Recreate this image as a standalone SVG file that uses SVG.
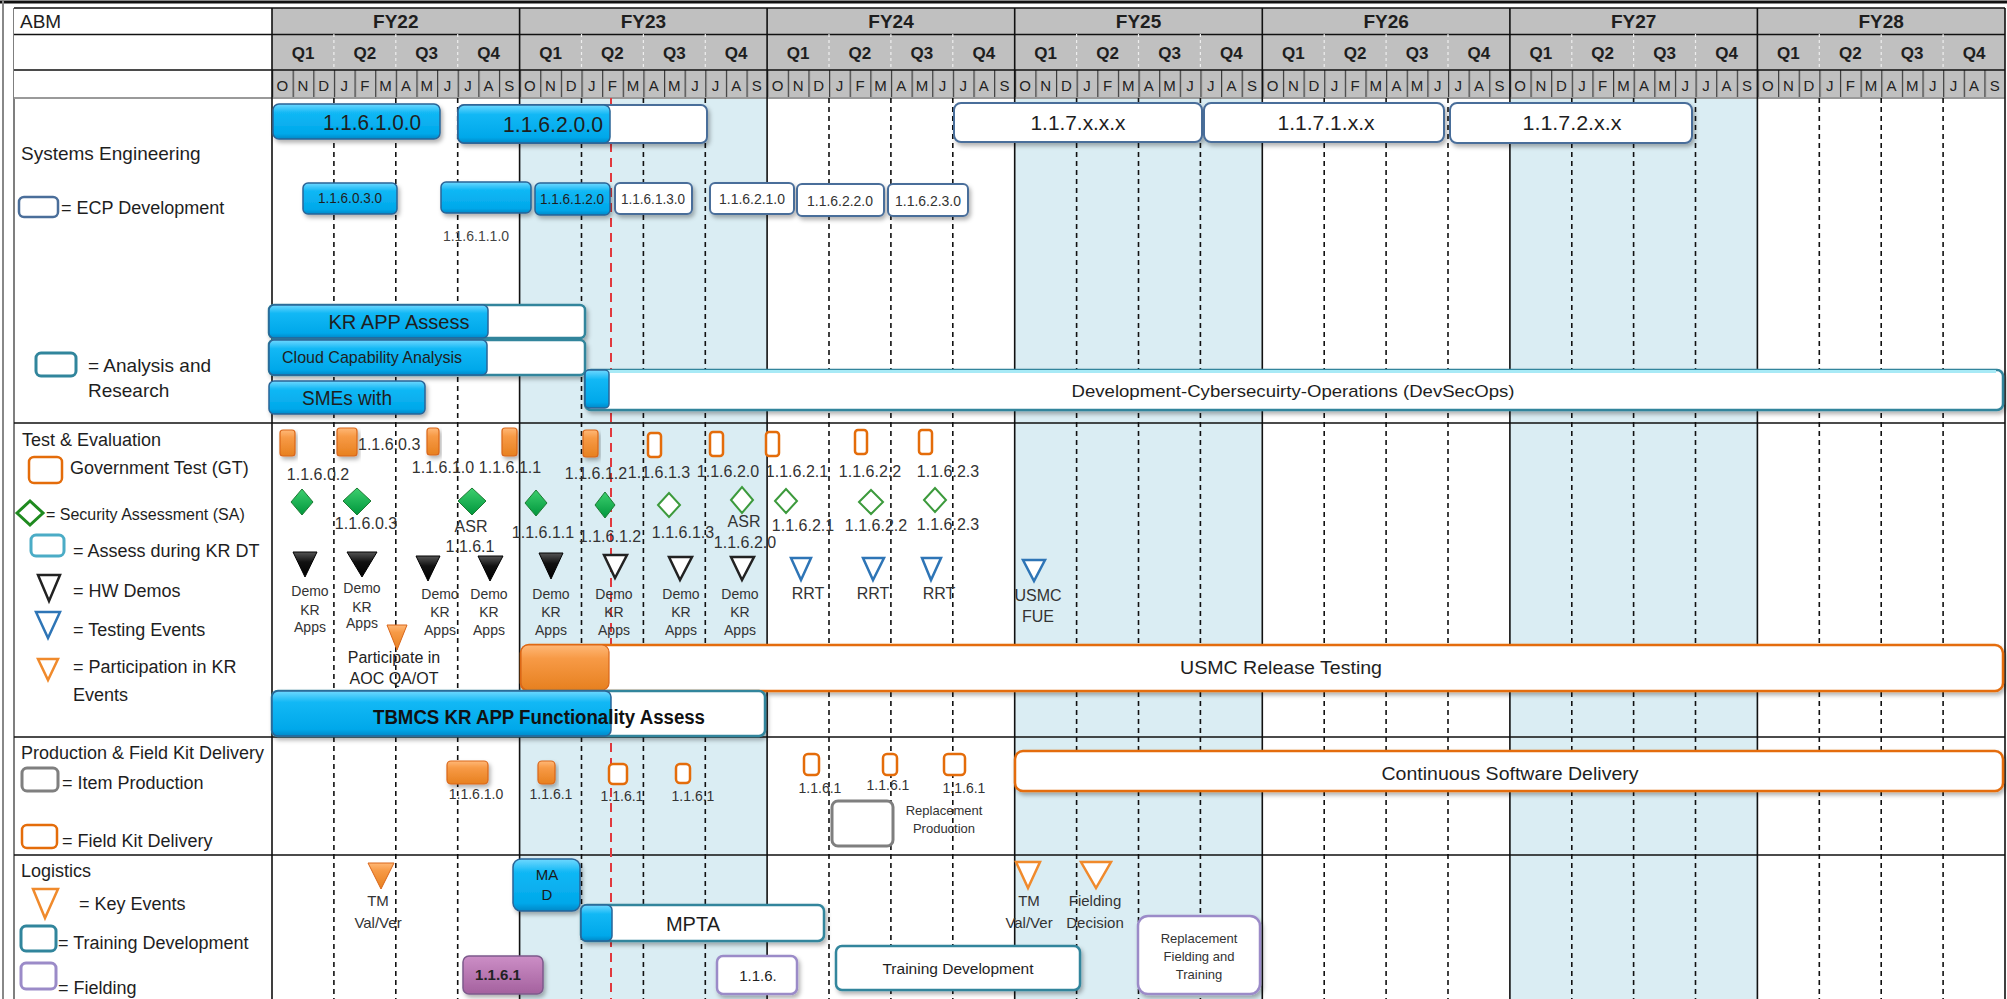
<svg xmlns="http://www.w3.org/2000/svg" width="2007" height="999" viewBox="0 0 2007 999">
<defs>
<linearGradient id="gB" x1="0" y1="0" x2="0" y2="1"><stop offset="0" stop-color="#6fd8ff"/><stop offset="0.25" stop-color="#12b8f5"/><stop offset="0.85" stop-color="#00a8ea"/><stop offset="1" stop-color="#0088c8"/></linearGradient>
<linearGradient id="gO" x1="0" y1="0" x2="0" y2="1"><stop offset="0" stop-color="#ffb877"/><stop offset="0.3" stop-color="#f79a46"/><stop offset="1" stop-color="#e7801f"/></linearGradient>
<linearGradient id="gP" x1="0" y1="0" x2="0" y2="1"><stop offset="0" stop-color="#cc8ec6"/><stop offset="1" stop-color="#a4619e"/></linearGradient>
<linearGradient id="gG" x1="0" y1="0" x2="0" y2="1"><stop offset="0" stop-color="#3ccf6e"/><stop offset="1" stop-color="#00963c"/></linearGradient>
<linearGradient id="gK" x1="0" y1="0" x2="0" y2="1"><stop offset="0" stop-color="#555"/><stop offset="0.4" stop-color="#111"/><stop offset="1" stop-color="#000"/></linearGradient>
<filter id="sh" x="-10%" y="-20%" width="130%" height="160%"><feDropShadow dx="2" dy="3" stdDeviation="2" flood-color="#000" flood-opacity="0.3"/></filter>
<pattern id="mpat" x="272" y="0" width="20.631" height="999" patternUnits="userSpaceOnUse"><rect x="0" y="0" width="1.2" height="999" fill="#3a3a3a"/></pattern>
</defs>
<style>
text{font-family:"Liberation Sans",Arial,sans-serif;fill:#1e1e1e}
.hdr{font-weight:bold;font-size:19px;text-anchor:middle}
.q{font-weight:bold;font-size:17px;text-anchor:middle}
.mo{font-size:15px;text-anchor:middle;fill:#222}
.lb{font-size:18px}
.c{text-anchor:middle}
.sm{font-size:14px;fill:#333}
.md{font-size:15px;fill:#333}
.bb{fill:url(#gB);stroke:#2a6496;stroke-width:1.5;filter:url(#sh)}
.bbn{fill:url(#gB);stroke:#2a6496;stroke-width:1.5}
.wb{fill:#fff;stroke:#4a6e9a;stroke-width:2;filter:url(#sh)}
.tb{fill:#fff;stroke:#31859c;stroke-width:2.5;filter:url(#sh)}
.of{fill:url(#gO);stroke:#d9661a;stroke-width:1.2;filter:url(#sh)}
.ofn{fill:url(#gO);stroke:#d9661a;stroke-width:1.2}
.ow{fill:#fff;stroke:#e46c0a;stroke-width:2.5}
.owb{fill:#fff;stroke:#e46c0a;stroke-width:2.5;filter:url(#sh)}
.pf{fill:url(#gP);stroke:#7d5a8c;stroke-width:1.5;filter:url(#sh)}
.pw{fill:#fff;stroke:#9b8bc8;stroke-width:2.5;filter:url(#sh)}
.gr{fill:#fff;stroke:#7f7f7f;stroke-width:3}
.gd{fill:url(#gG);stroke:#1e7b34;stroke-width:1}
.go{fill:#fff;stroke:#3c9a3c;stroke-width:2}
.tk{fill:url(#gK);stroke:#000;stroke-width:1}
.to{fill:#fff;stroke:#222;stroke-width:2.5}
.tbl{fill:#fff;stroke:#2e75b6;stroke-width:2.5}
.tof{fill:url(#gO);stroke:#d9661a;stroke-width:1}
.too{fill:#fff;stroke:#f08a2c;stroke-width:2.5}
.dash{fill:none;stroke:#111;stroke-width:1.6;stroke-dasharray:5 4}
.sol{fill:none;stroke:#111;stroke-width:1.6}
</style>

<!-- background and grid -->
<g id="grid">
<rect x="0" y="0" width="2007" height="999" fill="#fff"/>
<rect x="519.6" y="98" width="247.5" height="901" fill="#daedf3"/>
<rect x="1014.7" y="98" width="247.6" height="901" fill="#daedf3"/>
<rect x="1509.9" y="98" width="247.5" height="901" fill="#daedf3"/>
<line x1="0" y1="2" x2="2007" y2="2" stroke="#111" stroke-width="3"/>
<line x1="3" y1="0" x2="3" y2="999" stroke="#888" stroke-width="2"/>
<line x1="14" y1="8" x2="14" y2="999" stroke="#555" stroke-width="1.5"/>
<!-- header -->
<rect x="14" y="8" width="258" height="90" fill="#fff"/>
<rect x="272" y="8" width="1733" height="90" fill="#c0c0c0"/>
<rect x="272" y="70" width="1733" height="28" fill="url(#mpat)"/>
<path class="sol" d="M14 8H2005M14 34.5H2005M14 70H2005" stroke-width="2"/>
<path d="M14 98H2005" stroke="#9a9a9a" stroke-width="2"/>
<path d="M333.9 34V70M395.8 34V70M457.7 34V70M581.5 34V70M643.4 34V70M705.3 34V70M829 34V70M890.9 34V70M952.8 34V70M1076.6 34V70M1138.5 34V70M1200.4 34V70M1324.2 34V70M1386.1 34V70M1448 34V70M1571.8 34V70M1633.6 34V70M1695.5 34V70M1819.3 34V70M1881.2 34V70M1943.1 34V70" stroke="#eee" stroke-width="1.2" stroke-dasharray="3 3"/>
<path class="sol" d="M272 8V999M519.6 8V999M767.1 8V999M1014.7 8V999M1262.3 8V999M1509.9 8V999M1757.4 8V999M2005 8V999"/>
<path class="dash" d="M333.9 98V999M395.8 98V999M457.7 98V999M581.5 98V999M643.4 98V999M705.3 98V999M829 98V999M890.9 98V999M952.8 98V999M1076.6 98V999M1138.5 98V999M1200.4 98V999M1324.2 98V999M1386.1 98V999M1448 98V999M1571.8 98V999M1633.6 98V999M1695.5 98V999M1819.3 98V999M1881.2 98V999M1943.1 98V999"/>
<path class="sol" d="M14 423H2005M14 737H2005M14 855H2005" stroke-width="2.2"/>
<line x1="611" y1="98" x2="611" y2="999" stroke="#e0393e" stroke-width="2" stroke-dasharray="9 6"/>
</g>

<g id="header-text">
<text x="20" y="28" style="font-size:19px">ABM</text>
<text class="hdr" x="395.8" y="28">FY22</text>
<text class="hdr" x="643.4" y="28">FY23</text>
<text class="hdr" x="891" y="28">FY24</text>
<text class="hdr" x="1138.5" y="28">FY25</text>
<text class="hdr" x="1386.1" y="28">FY26</text>
<text class="hdr" x="1633.6" y="28">FY27</text>
<text class="hdr" x="1881.2" y="28">FY28</text>
<text class="q" x="303" y="59">Q1</text><text class="q" x="364.8" y="59">Q2</text><text class="q" x="426.7" y="59">Q3</text><text class="q" x="488.6" y="59">Q4</text>
<text class="q" x="550.5" y="59">Q1</text><text class="q" x="612.4" y="59">Q2</text><text class="q" x="674.3" y="59">Q3</text><text class="q" x="736.2" y="59">Q4</text>
<text class="q" x="798.1" y="59">Q1</text><text class="q" x="859.9" y="59">Q2</text><text class="q" x="921.9" y="59">Q3</text><text class="q" x="983.8" y="59">Q4</text>
<text class="q" x="1045.7" y="59">Q1</text><text class="q" x="1107.6" y="59">Q2</text><text class="q" x="1169.5" y="59">Q3</text><text class="q" x="1231.4" y="59">Q4</text>
<text class="q" x="1293.3" y="59">Q1</text><text class="q" x="1355.1" y="59">Q2</text><text class="q" x="1417" y="59">Q3</text><text class="q" x="1478.9" y="59">Q4</text>
<text class="q" x="1540.8" y="59">Q1</text><text class="q" x="1602.7" y="59">Q2</text><text class="q" x="1664.6" y="59">Q3</text><text class="q" x="1726.5" y="59">Q4</text>
<text class="q" x="1788.4" y="59">Q1</text><text class="q" x="1850.3" y="59">Q2</text><text class="q" x="1912.2" y="59">Q3</text><text class="q" x="1974.1" y="59">Q4</text>
<text class="mo" x="282.3 302.9 323.6 344.2 364.8 385.5 406.1 426.7 447.4 468 488.6 509.3 529.9 550.5 571.2 591.8 612.4 633 653.7 674.3 694.9 715.6 736.2 756.8 777.5 798.1 818.7 839.4 860 880.6 901.3 921.9 942.5 963.2 983.8 1004.4 1025 1045.7 1066.3 1086.9 1107.6 1128.2 1148.8 1169.5 1190.1 1210.7 1231.4 1252 1272.6 1293.3 1313.9 1334.5 1355.1 1375.8 1396.4 1417 1437.7 1458.3 1478.9 1499.6 1520.2 1540.8 1561.5 1582.1 1602.7 1623.4 1644 1664.6 1685.3 1705.9 1726.5 1747.1 1767.8 1788.4 1809 1829.7 1850.3 1870.9 1891.6 1912.2 1932.8 1953.5 1974.1 1994.7" y="91">ONDJFMAMJJASONDJFMAMJJASONDJFMAMJJASONDJFMAMJJASONDJFMAMJJASONDJFMAMJJASONDJFMAMJJAS</text>
</g>

<!-- left legend labels -->
<g id="legend-se">
<text class="lb" x="21" y="160" style="font-size:19px">Systems Engineering</text>
<rect x="19" y="197" width="39" height="20" rx="5" fill="#fff" stroke="#4a6e9a" stroke-width="2.5"/>
<text class="lb" x="61" y="214">= ECP Development</text>
<rect x="36" y="353" width="40" height="23" rx="5" fill="#fff" stroke="#31859c" stroke-width="3"/>
<text class="lb" x="88" y="372" style="font-size:19px">= Analysis and</text>
<text class="lb" x="88" y="397" style="font-size:19px">Research</text>
</g>
<g id="legend-te">
<text class="lb" x="22" y="446">Test &amp; Evaluation</text>
<rect x="29" y="457" width="33" height="26" rx="5" fill="#fff" stroke="#e46c0a" stroke-width="2.5"/>
<text class="lb" x="70" y="474">Government Test (GT)</text>
<polygon points="17,513 30,501 43,513 30,525" fill="#fff" stroke="#1f8a1f" stroke-width="3"/>
<text x="46" y="520" style="font-size:16px">= Security Assessment (SA)</text>
<rect x="31" y="535" width="33" height="21" rx="5" fill="#fff" stroke="#4bacc6" stroke-width="3"/>
<text class="lb" x="73" y="557">= Assess during KR DT</text>
<polygon points="38,575 60,575 49,601" fill="#fff" stroke="#222" stroke-width="2.5"/>
<text class="lb" x="73" y="597">= HW Demos</text>
<polygon points="36,612 60,612 48,638" fill="#fff" stroke="#2e75b6" stroke-width="2.5"/>
<text class="lb" x="73" y="636">= Testing Events</text>
<polygon points="38,659 58,659 48,680" fill="#fff" stroke="#f08a2c" stroke-width="2.5"/>
<text class="lb" x="73" y="673">= Participation in KR</text>
<text class="lb" x="73" y="701">Events</text>
</g>
<g id="legend-prod">
<text class="lb" x="21" y="759">Production &amp; Field Kit Delivery</text>
<rect x="22" y="768" width="36" height="23" rx="5" fill="#fff" stroke="#7f7f7f" stroke-width="3"/>
<text class="lb" x="62" y="789">= Item Production</text>
<rect x="22" y="825" width="35" height="23" rx="5" fill="#fff" stroke="#e46c0a" stroke-width="2.5"/>
<text class="lb" x="62" y="847">= Field Kit Delivery</text>
</g>
<g id="legend-log">
<text class="lb" x="21" y="877">Logistics</text>
<polygon points="33,889 58,889 45,918" fill="#fff" stroke="#f08a2c" stroke-width="2.5"/>
<text class="lb" x="79" y="910">= Key Events</text>
<rect x="21" y="926" width="35" height="25" rx="5" fill="#fff" stroke="#31859c" stroke-width="3"/>
<text class="lb" x="58" y="949">= Training Development</text>
<rect x="21" y="963" width="35" height="26" rx="5" fill="#fff" stroke="#9b8bc8" stroke-width="3"/>
<text class="lb" x="58" y="994">= Fielding</text>
</g>

<!-- Systems Engineering -->
<g id="se-1.1.6.1.0.0"><rect class="bb" x="273" y="104" width="167" height="35" rx="6"/><text class="c" x="372" y="130" style="font-size:22px" textLength="98" lengthAdjust="spacingAndGlyphs">1.1.6.1.0.0</text></g>
<g id="se-1.1.6.2.0.0"><rect class="wb" x="458" y="105" width="249" height="38" rx="6"/><rect class="bbn" x="458" y="105" width="152" height="38" rx="6"/><text class="c" x="553" y="132" style="font-size:22px" textLength="100" lengthAdjust="spacingAndGlyphs">1.1.6.2.0.0</text></g>
<g id="se-1.1.7.x.x.x"><rect class="wb" x="954" y="103" width="248" height="39" rx="7"/><text class="c" x="1078" y="130" style="font-size:21px" textLength="95" lengthAdjust="spacingAndGlyphs">1.1.7.x.x.x</text></g>
<g id="se-1.1.7.1.x.x"><rect class="wb" x="1204" y="103" width="240" height="39" rx="7"/><text class="c" x="1326" y="130" style="font-size:21px" textLength="97" lengthAdjust="spacingAndGlyphs">1.1.7.1.x.x</text></g>
<g id="se-1.1.7.2.x.x"><rect class="wb" x="1450" y="103" width="242" height="40" rx="7"/><text class="c" x="1572" y="130" style="font-size:21px" textLength="99" lengthAdjust="spacingAndGlyphs">1.1.7.2.x.x</text></g>
<g id="se-1.1.6.0.3.0"><rect class="bb" x="303" y="183" width="94" height="31" rx="5"/><text class="c" x="350" y="203" style="font-size:14px" textLength="64" lengthAdjust="spacingAndGlyphs">1.1.6.0.3.0</text></g>
<g id="se-1.1.6.1.1.0"><rect class="bb" x="441" y="182" width="90" height="31" rx="5"/><text class="c sm" x="476" y="241" style="fill:#444">1.1.6.1.1.0</text></g>
<g id="se-1.1.6.1.2.0"><rect class="bb" x="535" y="183" width="75" height="32" rx="5"/><text class="c" x="572" y="204" style="font-size:14px" textLength="64" lengthAdjust="spacingAndGlyphs">1.1.6.1.2.0</text></g>
<g id="se-1.1.6.1.3.0"><rect class="wb" x="615" y="183" width="77" height="31" rx="5"/><text class="c" x="653" y="204" style="font-size:14px;fill:#333" textLength="64" lengthAdjust="spacingAndGlyphs">1.1.6.1.3.0</text></g>
<g id="se-1.1.6.2.1.0"><rect class="wb" x="710" y="183" width="84" height="31" rx="5"/><text class="c" x="752" y="204" style="font-size:14px;fill:#333" textLength="66" lengthAdjust="spacingAndGlyphs">1.1.6.2.1.0</text></g>
<g id="se-1.1.6.2.2.0"><rect class="wb" x="797" y="184" width="87" height="32" rx="5"/><text class="c" x="840" y="206" style="font-size:14px;fill:#333" textLength="66" lengthAdjust="spacingAndGlyphs">1.1.6.2.2.0</text></g>
<g id="se-1.1.6.2.3.0"><rect class="wb" x="888" y="184" width="80" height="32" rx="5"/><text class="c" x="928" y="206" style="font-size:14px;fill:#333" textLength="66" lengthAdjust="spacingAndGlyphs">1.1.6.2.3.0</text></g>
<g id="ar-kr-app-assess"><rect class="tb" x="269" y="305" width="316" height="33" rx="5"/><rect class="bbn" x="269" y="305" width="219" height="33" rx="5"/><text class="c" x="399" y="329" style="font-size:21px" textLength="141" lengthAdjust="spacingAndGlyphs">KR APP Assess</text></g>
<g id="ar-cloud"><rect class="tb" x="269" y="340" width="316" height="35" rx="5"/><rect class="bbn" x="269" y="340" width="218" height="35" rx="5"/><text x="282" y="363" style="font-size:17px" textLength="180" lengthAdjust="spacingAndGlyphs">Cloud Capability Analysis</text></g>
<g id="ar-smes"><rect class="bb" x="269" y="381" width="156" height="33" rx="5"/><text class="c" x="347" y="405" style="font-size:20px" textLength="90" lengthAdjust="spacingAndGlyphs">SMEs with</text></g>
<g id="ar-devsecops"><rect class="tb" x="585" y="370" width="1418" height="40" rx="6"/><path d="M592 371.5H1996" stroke="#a8eaf6" stroke-width="3"/><rect class="bbn" x="585" y="370" width="24" height="38" rx="4"/><text class="c" x="1293" y="397" style="font-size:17px" textLength="443" lengthAdjust="spacingAndGlyphs">Development-Cybersecuirty-Operations (DevSecOps)</text></g>

<!-- Test & Evaluation: GT markers -->
<g id="gt-1"><rect class="of" x="280" y="430" width="15" height="26" rx="3"/></g>
<g id="gt-2"><rect class="of" x="337" y="428" width="20" height="28" rx="3"/></g>
<g id="gt-3"><rect class="of" x="427" y="428" width="12" height="27" rx="3"/></g>
<g id="gt-4"><rect class="of" x="502" y="428" width="15" height="28" rx="3"/></g>
<g id="gt-5"><rect class="of" x="583" y="430" width="15" height="27" rx="3"/></g>
<g id="gt-6"><rect class="ow" x="648" y="433" width="13" height="24" rx="3"/></g>
<g id="gt-7"><rect class="ow" x="710" y="432" width="13" height="24" rx="3"/></g>
<g id="gt-8"><rect class="ow" x="766" y="432" width="13" height="24" rx="3"/></g>
<g id="gt-9"><rect class="ow" x="855" y="430" width="12" height="24" rx="3"/></g>
<g id="gt-10"><rect class="ow" x="919" y="430" width="13" height="24" rx="3"/></g>
<g id="gt-labels">
<text x="358" y="450" style="font-size:16px;fill:#333">1.1.6.0.3</text>
<text class="c" x="318" y="480" style="font-size:16px;fill:#333">1.1.6.0.2</text>
<text class="c" x="443" y="473" style="font-size:16px;fill:#333">1.1.6.1.0</text>
<text class="c" x="510" y="473" style="font-size:16px;fill:#333">1.1.6.1.1</text>
<text class="c" x="596" y="479" style="font-size:16px;fill:#333">1.1.6.1.2</text>
<text class="c" x="659" y="478" style="font-size:16px;fill:#333">1.1.6.1.3</text>
<text class="c" x="728" y="477" style="font-size:16px;fill:#333">1.1.6.2.0</text>
<text class="c" x="797" y="477" style="font-size:16px;fill:#333">1.1.6.2.1</text>
<text class="c" x="870" y="477" style="font-size:16px;fill:#333">1.1.6.2.2</text>
<text class="c" x="948" y="477" style="font-size:16px;fill:#333">1.1.6.2.3</text>
</g>
<!-- SA diamonds -->
<g id="sa-1"><polygon class="gd" points="291,502 302,489 313,502 302,515"/></g>
<g id="sa-2"><polygon class="gd" points="343,501 357,488 371,501 357,515"/></g>
<g id="sa-3"><polygon class="gd" points="458,501 472,488 486,501 472,515"/></g>
<g id="sa-4"><polygon class="gd" points="525,503 536,490 547,503 536,516"/></g>
<g id="sa-5"><polygon class="gd" points="595,505 605,492 615,505 605,518"/></g>
<g id="sa-6"><polygon class="go" points="658,505 669,493 680,505 669,517"/></g>
<g id="sa-7"><polygon class="go" points="731,500 742,487 753,500 742,513"/></g>
<g id="sa-8"><polygon class="go" points="775,501 786,489 797,501 786,513"/></g>
<g id="sa-9"><polygon class="go" points="859,502 871,490 883,502 871,514"/></g>
<g id="sa-10"><polygon class="go" points="924,500 935,488 946,500 935,512"/></g>
<g id="sa-labels">
<text class="c" x="366" y="529" style="font-size:16px;fill:#333">1.1.6.0.3</text>
<text class="c" x="471" y="532" style="font-size:16px;fill:#333">ASR</text>
<text class="c" x="470" y="552" style="font-size:16px;fill:#333">1.1.6.1</text>
<text class="c" x="543" y="538" style="font-size:16px;fill:#333">1.1.6.1.1</text>
<text class="c" x="610" y="542" style="font-size:16px;fill:#333">1.1.6.1.2</text>
<text class="c" x="683" y="538" style="font-size:16px;fill:#333">1.1.6.1.3</text>
<text class="c" x="744" y="527" style="font-size:16px;fill:#333">ASR</text>
<text class="c" x="745" y="548" style="font-size:16px;fill:#333">1.1.6.2.0</text>
<text class="c" x="803" y="531" style="font-size:16px;fill:#333">1.1.6.2.1</text>
<text class="c" x="876" y="531" style="font-size:16px;fill:#333">1.1.6.2.2</text>
<text class="c" x="948" y="530" style="font-size:16px;fill:#333">1.1.6.2.3</text>
</g>
<!-- HW demos -->
<g id="hw-1"><polygon class="tk" points="293,552 317,552 305,577"/><text class="c sm" x="310" y="596">Demo</text><text class="c sm" x="310" y="615">KR</text><text class="c sm" x="310" y="632">Apps</text></g>
<g id="hw-2"><polygon class="tk" points="347,552 377,552 362,577"/><text class="c sm" x="362" y="593">Demo</text><text class="c sm" x="362" y="612">KR</text><text class="c sm" x="362" y="628">Apps</text></g>
<g id="hw-3"><polygon class="tk" points="416,556 440,556 428,581"/><text class="c sm" x="440" y="599">Demo</text><text class="c sm" x="440" y="617">KR</text><text class="c sm" x="440" y="635">Apps</text></g>
<g id="hw-4"><polygon class="tk" points="478,556 503,556 490,581"/><text class="c sm" x="489" y="599">Demo</text><text class="c sm" x="489" y="617">KR</text><text class="c sm" x="489" y="635">Apps</text></g>
<g id="hw-5"><polygon class="tk" points="539,553 563,553 551,579"/><text class="c sm" x="551" y="599">Demo</text><text class="c sm" x="551" y="617">KR</text><text class="c sm" x="551" y="635">Apps</text></g>
<g id="hw-6"><polygon class="to" points="604,555 627,555 615,578"/><text class="c sm" x="614" y="599">Demo</text><text class="c sm" x="614" y="617">KR</text><text class="c sm" x="614" y="635">Apps</text></g>
<g id="hw-7"><polygon class="to" points="669,557 692,557 680,580"/><text class="c sm" x="681" y="599">Demo</text><text class="c sm" x="681" y="617">KR</text><text class="c sm" x="681" y="635">Apps</text></g>
<g id="hw-8"><polygon class="to" points="731,557 754,557 742,580"/><text class="c sm" x="740" y="599">Demo</text><text class="c sm" x="740" y="617">KR</text><text class="c sm" x="740" y="635">Apps</text></g>
<!-- Testing events -->
<g id="te-rrt-1"><polygon class="tbl" points="791,558 811,558 801,580"/><text class="c" x="808" y="599" style="font-size:16px;fill:#333">RRT</text></g>
<g id="te-rrt-2"><polygon class="tbl" points="863,558 884,558 873,580"/><text class="c" x="873" y="599" style="font-size:16px;fill:#333">RRT</text></g>
<g id="te-rrt-3"><polygon class="tbl" points="922,558 941,558 931,580"/><text class="c" x="939" y="599" style="font-size:16px;fill:#333">RRT</text></g>
<g id="te-usmc-fue"><polygon class="tbl" points="1023,560 1045,560 1034,581"/><text class="c" x="1038" y="601" style="font-size:16px;fill:#333">USMC</text><text class="c" x="1038" y="622" style="font-size:16px;fill:#333">FUE</text></g>
<g id="kr-participate"><polygon class="tof" points="387,625 407,625 397,650"/><text class="c" x="394" y="663" style="font-size:16px;fill:#222">Participate in</text><text class="c" x="394" y="684" style="font-size:16px;fill:#222">AOC QA/OT</text></g>
<g id="usmc-release-testing"><rect class="owb" x="521" y="645" width="1482" height="46" rx="8"/><rect class="ofn" x="521" y="645" width="88" height="45" rx="7"/><text class="c" x="1281" y="674" style="font-size:18px" textLength="202" lengthAdjust="spacingAndGlyphs">USMC Release Testing</text></g>
<g id="tbmcs"><rect class="tb" x="272" y="691" width="493" height="45" rx="6"/><rect class="bbn" x="272" y="691" width="339" height="45" rx="6"/><text class="c" x="539" y="724" style="font-size:20px;font-weight:bold;fill:#111" textLength="332" lengthAdjust="spacingAndGlyphs">TBMCS KR APP Functionality Assess</text></g>

<!-- Production & Field Kit Delivery -->
<g id="pk-1"><rect class="of" x="447" y="761" width="41" height="23" rx="4"/><text class="c sm" x="476" y="799">1.1.6.1.0</text></g>
<g id="pk-2"><rect class="of" x="538" y="761" width="17" height="23" rx="4"/><text class="c sm" x="551" y="799">1.1.6.1</text></g>
<g id="pk-3"><rect class="ow" x="609" y="764" width="18" height="20" rx="4"/><text class="c sm" x="622" y="801">1.1.6.1</text></g>
<g id="pk-4"><rect class="ow" x="676" y="764" width="14" height="19" rx="4"/><text class="c sm" x="693" y="801">1.1.6.1</text></g>
<g id="pk-5"><rect class="ow" x="804" y="754" width="15" height="21" rx="4"/><text class="c sm" x="820" y="793">1.1.6.1</text></g>
<g id="pk-6"><rect class="ow" x="883" y="754" width="14" height="21" rx="4"/><text class="c sm" x="888" y="790">1.1.6.1</text></g>
<g id="pk-7"><rect class="ow" x="944" y="754" width="21" height="21" rx="4"/><text class="c sm" x="964" y="793">1.1.6.1</text></g>
<g id="replacement-production"><rect class="gr" x="832" y="801" width="61" height="45" rx="6"/><text class="c" x="944" y="815" style="font-size:13px;fill:#333">Replacement</text><text class="c" x="944" y="833" style="font-size:13px;fill:#333">Production</text></g>
<g id="continuous-software-delivery"><rect class="owb" x="1015" y="751" width="988" height="40" rx="8"/><text class="c" x="1510" y="780" style="font-size:18px" textLength="257" lengthAdjust="spacingAndGlyphs">Continuous Software Delivery</text></g>

<!-- Logistics -->
<g id="log-tm-1"><polygon class="tof" points="368,863 394,863 381,889"/><text class="c md" x="378" y="906">TM</text><text class="c md" x="378" y="928">Val/Ver</text></g>
<g id="log-mad"><rect class="bb" x="513" y="859" width="67" height="52" rx="8"/><text class="c md" x="547" y="880" style="fill:#1a1a1a">MA</text><text class="c md" x="547" y="900" style="fill:#1a1a1a">D</text></g>
<g id="log-mpta"><rect class="tb" x="581" y="905" width="243" height="36" rx="6"/><rect class="bbn" x="581" y="905" width="31" height="36" rx="5"/><text class="c" x="693" y="931" style="font-size:20px">MPTA</text></g>
<g id="log-fielding-1"><rect class="pf" x="463" y="956" width="80" height="38" rx="6"/><text class="c" x="498" y="980" style="font-size:15px;font-weight:bold;fill:#222">1.1.6.1</text></g>
<g id="log-fielding-2"><rect class="pw" x="717" y="956" width="80" height="38" rx="6"/><text class="c md" x="758" y="981" style="fill:#222">1.1.6.</text></g>
<g id="log-training-dev"><rect class="tb" x="836" y="946" width="244" height="44" rx="6"/><text class="c" x="958" y="974" style="font-size:15.5px">Training Development</text></g>
<g id="log-tm-2"><polygon class="too" points="1016,862 1040,862 1028,888"/><text class="c md" x="1029" y="906">TM</text><text class="c md" x="1029" y="928">Val/Ver</text></g>
<g id="log-fielding-decision"><polygon class="too" points="1081,862 1111,862 1096,888"/><text class="c md" x="1095" y="906">Fielding</text><text class="c md" x="1095" y="928">Decision</text></g>
<g id="log-replacement-fielding"><rect class="pw" x="1138" y="916" width="122" height="78" rx="10"/><text class="c" x="1199" y="943" style="font-size:13px;fill:#333">Replacement</text><text class="c" x="1199" y="961" style="font-size:13px;fill:#333">Fielding and</text><text class="c" x="1199" y="979" style="font-size:13px;fill:#333">Training</text></g>
</svg>
